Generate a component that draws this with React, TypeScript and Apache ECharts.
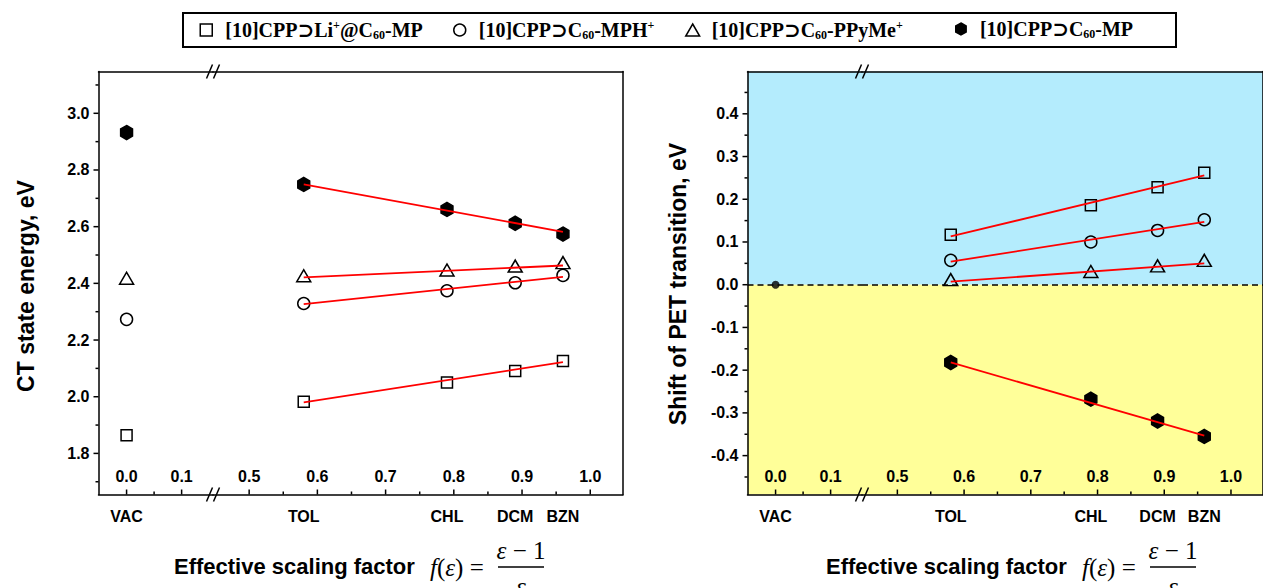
import { useEffect, useRef } from "react";
import * as echarts from "echarts";

// ---------- data ----------
const seriesKeys = ["LiMP", "MPH", "PPyMe", "MP"];
const legendLabels = [
  "[10]CPP⊃Li{sup|+}@C{sub|60}-MP",
  "[10]CPP⊃C{sub|60}-MPH{sup|+}",
  "[10]CPP⊃C{sub|60}-PPyMe{sup|+}",
  "[10]CPP⊃C{sub|60}-MP",
];
const solvents = ["VAC", "TOL", "CHL", "DCM", "BZN"];
const fEps = [0.0, 0.58, 0.79, 0.89, 0.96];

// CT state energy (eV): VAC, TOL, CHL, DCM, BZN
const ctLiMP = [1.864, 1.982, 2.05, 2.091, 2.126];
const ctMPH = [2.273, 2.329, 2.374, 2.402, 2.428];
const ctPPyMe = [2.418, 2.427, 2.447, 2.461, 2.473];
const ctMP = [2.932, 2.749, 2.661, 2.612, 2.574];

// linear fit endpoints (TOL, BZN)
const fitX = [0.58, 0.96];
const ctFitLiMP = [1.98, 2.122];
const ctFitMPH = [2.327, 2.423];
const ctFitPPyMe = [2.421, 2.463];
const ctFitMP = [2.749, 2.582];

// Shift of PET transition (eV): TOL, CHL, DCM, BZN
const petVac = [0.0];
const petLiMP = [0.117, 0.186, 0.228, 0.262];
const petMPH = [0.057, 0.1, 0.127, 0.152];
const petPPyMe = [0.012, 0.031, 0.044, 0.057];
const petMP = [-0.182, -0.268, -0.319, -0.355];

const petFitLiMP = [0.113, 0.256];
const petFitMPH = [0.054, 0.147];
const petFitPPyMe = [0.007, 0.05];
const petFitMP = [-0.182, -0.353];

// ticks
const xTicksA = [0.0, 0.1];
const xMinorA = [0.05];
const xTicksB = [0.5, 0.6, 0.7, 0.8, 0.9, 1.0];
const xMinorB = [0.55, 0.65, 0.75, 0.85, 0.95];
const ctTicks = [1.8, 2.0, 2.2, 2.4, 2.6, 2.8, 3.0];
const ctMinor = [1.7, 1.9, 2.1, 2.3, 2.5, 2.7, 2.9, 3.1];
const petTicks = [-0.4, -0.3, -0.2, -0.1, 0.0, 0.1, 0.2, 0.3, 0.4];
const petMinor = [-0.45, -0.35, -0.25, -0.15, -0.05, 0.05, 0.15, 0.25, 0.35, 0.45];

// ---------- styling / layout ----------
const SANS = "'Liberation Sans', Arial, Helvetica, sans-serif";
const SERIF = "'Liberation Serif', 'Times New Roman', 'DejaVu Serif', serif";
const HEX = "path://M0,-1L0.866,-0.5L0.866,0.5L0,1L-0.866,0.5L-0.866,-0.5Z";
const symbolDefs = [
  { symbol: "rect", size: 11, icon: "path://M0,0H1V1H0Z", fill: "rgba(255,255,255,0)" },
  { symbol: "circle", size: 12, icon: "circle", fill: "rgba(255,255,255,0)" },
  { symbol: "triangle", size: [14, 12], icon: "path://M1,0L2,1.73L0,1.73Z", fill: "rgba(255,255,255,0)" },
  { symbol: HEX, size: [12, 14], icon: HEX, fill: "#000" },
];
const legendLeft = [199.5, 453, 685, 955];

const DX = 649;
const TOP = 71.5;
const H = 423;
const xRangeA = [-0.051, 0.157];
const xRangeB = [0.447, 1.048];
const ctRange = [1.655, 3.1475];
const petRange = [-0.491, 0.499];

const tickFont = { fontFamily: SANS, fontWeight: "bold" as const, fontSize: 16, color: "#000" };
const black = { color: "#000", width: 1.5 };

function xAxes(gridIndex: number, range: number[], ticks: number[], solv: number[]) {
  return [
    {
      type: "value", gridIndex, min: range[0], max: range[1], position: "bottom", z: 6,
      axisLine: { show: true, onZero: false, lineStyle: black },
      axisTick: { show: false },
      axisLabel: { show: true, inside: true, margin: 10, customValues: ticks, formatter: (v: number) => v.toFixed(1), ...tickFont },
      splitLine: { show: false },
    },
    {
      type: "value", gridIndex, min: range[0], max: range[1], position: "bottom", z: 6,
      axisLine: { show: false, onZero: false },
      axisTick: { show: false },
      axisLabel: {
        show: true, margin: 14, customValues: solv,
        formatter: (v: number) => solvents[fEps.indexOf(v)] ?? "", ...tickFont,
      },
      splitLine: { show: false },
    },
    {
      type: "value", gridIndex, min: range[0], max: range[1], position: "top", z: 6,
      axisLine: { show: true, onZero: false, lineStyle: black },
      axisTick: { show: false },
      axisLabel: { show: false },
      splitLine: { show: false },
    },
  ];
}

function yAxisA(gridIndex: number, range: number[], ticks: number[]) {
  return {
    type: "value", gridIndex, min: range[0], max: range[1], position: "left", z: 6,
    axisLine: { show: true, onZero: false, lineStyle: black },
    axisTick: { show: false },
    axisLabel: { show: true, margin: 9, customValues: ticks, formatter: (v: number) => v.toFixed(1), ...tickFont },
    splitLine: { show: false },
  };
}

function yAxisB(gridIndex: number, range: number[]) {
  return {
    type: "value", gridIndex, min: range[0], max: range[1], position: "right", z: 6,
    axisLine: { show: true, onZero: false, lineStyle: black },
    axisTick: { show: false },
    axisLabel: { show: false },
    splitLine: { show: false },
  };
}

// tick marks drawn through the axes' own scales (custom series, api.coord)
function tickSeries(xi: number, yi: number, dir: "x" | "y", major: number[], minor: number[], anchor: number) {
  const data = [...major.map((v) => [v, 1]), ...minor.map((v) => [v, 0])];
  return {
    type: "custom", name: "ticks", xAxisIndex: xi, yAxisIndex: yi, z: 7, silent: true, clip: false,
    data,
    renderItem: (_p: any, api: any) => {
      const v = api.value(0);
      const len = api.value(1) ? 5 : 3;
      if (dir === "x") {
        const p = api.coord([v, anchor]);
        return { type: "line", shape: { x1: p[0], y1: p[1], x2: p[0], y2: p[1] - len }, style: { stroke: "#000", lineWidth: 1.5 } };
      }
      const p = api.coord([anchor, v]);
      return { type: "line", shape: { x1: p[0], y1: p[1], x2: p[0] - len, y2: p[1] }, style: { stroke: "#000", lineWidth: 1.5 } };
    },
  };
}

function scatter(k: number, xi: number, yi: number, xs: number[], ys: number[]) {
  const d = symbolDefs[k];
  return {
    type: "scatter", name: seriesKeys[k], xAxisIndex: xi, yAxisIndex: yi, z: 3,
    symbol: d.symbol, symbolSize: d.size,
    itemStyle: { color: d.fill, borderColor: "#000", borderWidth: 1.5, opacity: 1 },
    data: xs.map((x, i) => [x, ys[i]]),
  };
}

function fit(name: string, xi: number, yi: number, ys: number[]) {
  return {
    type: "line", name, xAxisIndex: xi, yAxisIndex: yi, z: 4,
    showSymbol: false, symbol: "none",
    lineStyle: { color: "#ff0000", width: 1.8 },
    data: fitX.map((x, i) => [x, ys[i]]),
  };
}

function bgSeries(xi: number, yi: number) {
  return {
    type: "line", name: "bg", xAxisIndex: xi, yAxisIndex: yi, z: 1, data: [],
    markArea: {
      silent: true,
      data: [
        [{ xAxis: -Infinity, yAxis: 0, itemStyle: { color: "#b4ecfd" } }, { xAxis: Infinity, yAxis: Infinity }],
        [{ xAxis: -Infinity, yAxis: -Infinity, itemStyle: { color: "#ffff99" } }, { xAxis: Infinity, yAxis: 0 }],
      ],
    },
    markLine: {
      silent: true, symbol: ["none", "none"], label: { show: false },
      lineStyle: { color: "#000", type: [6, 4], width: 1.5 },
      data: [{ yAxis: 0 }],
    },
  };
}

function slashes(cx: number, cy: number) {
  return [-3.5, 3.5].map((o) => ({
    type: "line", z: 20,
    shape: { x1: cx + o - 3, y1: cy + 7, x2: cx + o + 3, y2: cy - 7 },
    style: { stroke: "#000", lineWidth: 1.5 },
  }));
}

function xTitle(dx: number) {
  const ital = { fontFamily: SERIF, fontStyle: "italic", fontSize: 25, fill: "#000" };
  return [
    {
      type: "text", x: 174 + dx, y: 566, z: 20,
      style: { text: "Effective scaling factor", fontFamily: SANS, fontWeight: "bold", fontSize: 22, fill: "#000", align: "left", verticalAlign: "middle" },
    },
    {
      type: "text", x: 430 + dx, y: 567, z: 20,
      style: {
        text: "{i|f}({i|ε}) =", fontFamily: SERIF, fontSize: 25, fill: "#000", align: "left", verticalAlign: "middle",
        rich: { i: ital },
      },
    },
    {
      type: "text", x: 521 + dx, y: 550, z: 20,
      style: {
        text: "{i|ε} − 1", fontFamily: SERIF, fontSize: 25, fill: "#000", align: "center", verticalAlign: "middle",
        rich: { i: ital },
      },
    },
    {
      type: "line", z: 20, shape: { x1: 498 + dx, y1: 567, x2: 544 + dx, y2: 567 },
      style: { stroke: "#000", lineWidth: 1.3 },
    },
    {
      type: "text", x: 521 + dx, y: 586, z: 20,
      style: { text: "ε", ...ital, align: "center", verticalAlign: "middle" },
    },
  ];
}

export default function App() {
  const ref = useRef<HTMLDivElement>(null);
  useEffect(() => {
    if (!ref.current) return;
    const chart = echarts.init(ref.current, undefined, { renderer: "svg" });

    const grid = [
      { left: 98.5, top: TOP, width: 114.5, height: H },
      { left: 213, top: TOP, width: 410, height: H },
      { left: 98.5 + DX, top: TOP, width: 114.5, height: H },
      { left: 213 + DX, top: TOP, width: 410, height: H },
    ];

    // xAxis indices: grid g -> 3g (data/main), 3g+1 (solvents), 3g+2 (top frame)
    const xAxis = [
      ...xAxes(0, xRangeA, xTicksA, [fEps[0]]),
      ...xAxes(1, xRangeB, xTicksB, fEps.slice(1)),
      ...xAxes(2, xRangeA, xTicksA, [fEps[0]]),
      ...xAxes(3, xRangeB, xTicksB, fEps.slice(1)),
    ];
    // yAxis indices: grid g -> g
    const yAxis = [
      yAxisA(0, ctRange, ctTicks),
      yAxisB(1, ctRange),
      yAxisA(2, petRange, petTicks),
      yAxisB(3, petRange),
    ];

    const ctSets = [ctLiMP, ctMPH, ctPPyMe, ctMP];
    const ctFits = [ctFitLiMP, ctFitMPH, ctFitPPyMe, ctFitMP];
    const petSets = [petLiMP, petMPH, petPPyMe, petMP];
    const petFits = [petFitLiMP, petFitMPH, petFitPPyMe, petFitMP];

    const series: any[] = [];
    // right panel background + zero line
    series.push(bgSeries(6, 2));
    series.push(bgSeries(9, 3));
    // tick marks
    series.push(tickSeries(0, 0, "x", xTicksA, xMinorA, ctRange[0]));
    series.push(tickSeries(3, 1, "x", xTicksB, xMinorB, ctRange[0]));
    series.push(tickSeries(0, 0, "y", ctTicks, ctMinor, xRangeA[0]));
    series.push(tickSeries(6, 2, "x", xTicksA, xMinorA, petRange[0]));
    series.push(tickSeries(9, 3, "x", xTicksB, xMinorB, petRange[0]));
    series.push(tickSeries(6, 2, "y", petTicks, petMinor, xRangeA[0]));
    // left panel
    ctSets.forEach((s, k) => series.push(scatter(k, 0, 0, [fEps[0]], [s[0]])));
    ctSets.forEach((s, k) => series.push(scatter(k, 3, 1, fEps.slice(1), s.slice(1))));
    ctFits.forEach((f, k) => series.push(fit("fitCT" + k, 3, 1, f)));
    // right panel
    series.push({
      type: "scatter", name: "VAC", xAxisIndex: 6, yAxisIndex: 2, z: 3,
      symbol: "circle", symbolSize: 8, itemStyle: { color: "#000" },
      data: [[fEps[0], petVac[0]]],
    });
    petSets.forEach((s, k) => series.push(scatter(k, 9, 3, fEps.slice(1), s)));
    petFits.forEach((f, k) => series.push(fit("fitPET" + k, 9, 3, f)));

    const legend = seriesKeys.map((name, k) => ({
      show: true, selectedMode: false, left: legendLeft[k], top: 19, padding: 0,
      itemWidth: 28, itemHeight: 12, symbolKeepAspect: true,
      itemStyle: { borderColor: "#000", borderWidth: 1.5 },
      data: [{ name, icon: symbolDefs[k].icon }],
      formatter: () => legendLabels[k],
      textStyle: {
        fontFamily: SERIF, fontWeight: "bold", fontSize: 20, color: "#000",
        rich: {
          sup: { fontFamily: SERIF, fontWeight: "bold", fontSize: 12, color: "#000", padding: [0, 0, 10, 0] },
          sub: { fontFamily: SERIF, fontWeight: "bold", fontSize: 12, color: "#000", padding: [9, 0, 0, 0] },
        },
      },
    }));

    const graphic = [
      {
        type: "rect", z: 20, shape: { x: 183, y: 13, width: 993, height: 34 },
        style: { fill: "none", stroke: "#000", lineWidth: 2 },
      },
      {
        type: "text", x: 25.5, y: 286, rotation: Math.PI / 2, z: 20,
        style: { text: "CT state energy, eV", fontFamily: SANS, fontWeight: "bold", fontSize: 23, fill: "#000", align: "center", verticalAlign: "middle" },
      },
      {
        type: "text", x: 678, y: 284, rotation: Math.PI / 2, z: 20,
        style: { text: "Shift of PET transition, eV", fontFamily: SANS, fontWeight: "bold", fontSize: 23, fill: "#000", align: "center", verticalAlign: "middle" },
      },
      ...slashes(213, TOP),
      ...slashes(213, TOP + H),
      ...slashes(213 + DX, TOP),
      ...slashes(213 + DX, TOP + H),
      ...xTitle(0),
      ...xTitle(652),
    ];

    chart.setOption({
      animation: false,
      backgroundColor: "#fff",
      grid, xAxis, yAxis, series, legend, graphic,
    });
    return () => chart.dispose();
  }, []);
  return <div ref={ref} style={{ position: "absolute", left: 0, top: 0, width: 1263, height: 588 }} />;
}
